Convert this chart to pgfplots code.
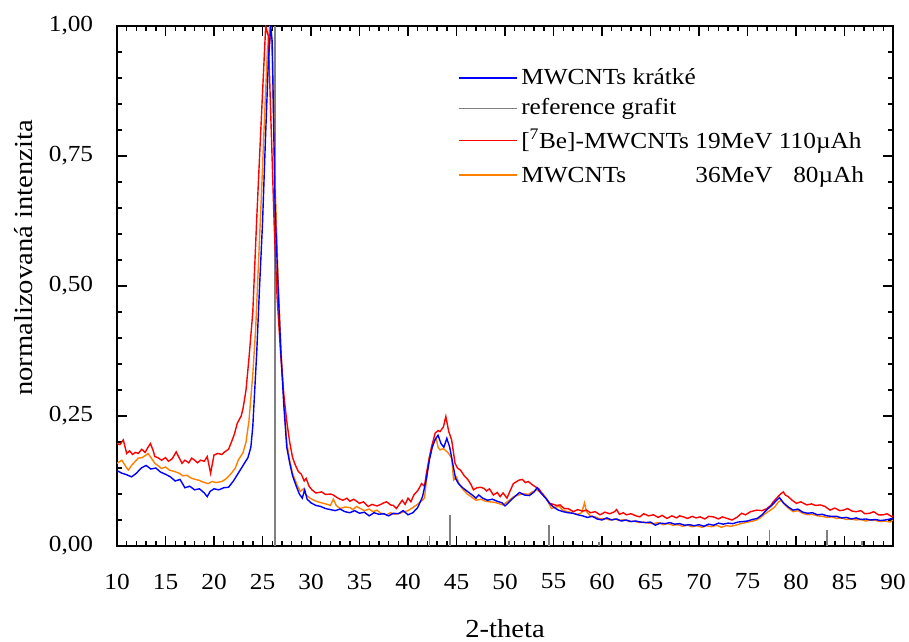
\documentclass[border=0pt]{standalone}
\usepackage{fontspec}
\setmainfont[FakeStretch=1.1]{Liberation Serif}
\usepackage{pgfplots}
\pgfplotsset{compat=1.18}
\definecolor{cblue}{RGB}{0,0,255}
\definecolor{cred}{RGB}{255,0,0}
\definecolor{corange}{RGB}{255,128,0}
\definecolor{cgray}{RGB}{128,128,128}
\begin{document}
\fontsize{23}{27}\selectfont
\begin{tikzpicture}
\begin{axis}[
  scale only axis, width=776pt, height=520pt,
  xmin=10, xmax=90, ymin=0, ymax=1,
  xtick={10,15,...,90}, ytick={0,0.25,0.5,0.75,1},
  minor x tick num=4, minor y tick num=4,
  major tick length=10pt, minor tick length=5pt,
  tick style={black, line width=1.4pt},
  axis line style={line width=1.8pt},
  tick align=inside,
  /pgf/number format/assume math mode=true,
  yticklabel={\pgfmathprintnumber[fixed,fixed zerofill,precision=2,use comma]{\tick}},
  xticklabel={\pgfmathprintnumber[fixed,precision=0]{\tick}},
  yticklabel style={xshift=-16pt},
  xticklabel style={yshift=-20pt},
  xlabel={2-theta}, ylabel={normalizovaná intenzita},
  xlabel style={at={([yshift=-91pt]rel axis cs:0.5,0)}, anchor=base, font=\fontsize{26}{30}\selectfont},
  ylabel style={at={([xshift=-84pt]rel axis cs:0,0.554)}, anchor=base, font=\fontsize{26}{30}\selectfont},
  legend style={draw=none, fill=none, at={(0.435,0.927)}, anchor=north west,
    row sep=7pt, font=\fontsize{23}{27}\selectfont, nodes={inner xsep=4pt}},
  legend cell align=left,
  legend image code/.code={\draw[#1,line width=1.5pt] (0pt,0pt) -- (58pt,0pt);},
]
\coordinate (ll) at (rel axis cs:0,0);
\coordinate (ur) at (rel axis cs:1,1);
\addlegendimage{color=cblue}
\addlegendentry{MWCNTs krátké}
\addlegendimage{color=cgray}
\addlegendentry{reference grafit}
\addlegendimage{color=cred}
\addlegendentry{[\textsuperscript{7}Be]-MWCNTs 19MeV 110µAh}
\addlegendimage{color=corange}
\addlegendentry{\rlap{MWCNTs}\phantom{[\textsuperscript{7}Be]-MWCNTs} 36MeV\hspace{0.9em}80µAh}

% reference graphite sticks
\addplot[cgray, ycomb, line width=1.5pt, forget plot] coordinates {
(26.3,1.0) (42.2,0.019) (44.35,0.06) (50.4,0.01) (54.55,0.04) (59.7,0.008) (77.25,0.031) (83.2,0.03) (86.8,0.01)
};

% orange: MWCNTs 36MeV 80uAh
\addplot[corange, line width=1.4pt, forget plot] coordinates {
(10.0,0.159) (10.5,0.165) (11.0,0.150) (11.17,0.146) (11.5,0.155) (12.0,0.165) (12.2,0.169) (12.6,0.170) (13.0,0.175) (13.2,0.178) (13.5,0.170) (13.9,0.159) (14.2,0.155) (14.6,0.149) (15.0,0.152) (15.4,0.146) (15.98,0.143) (16.4,0.140) (16.8,0.135) (17.2,0.136) (17.7,0.130) (18.1,0.128) (18.5,0.126) (19.0,0.122) (19.4,0.120) (19.8,0.124) (20.2,0.122) (20.8,0.124) (21.3,0.130) (21.8,0.140) (22.2,0.150) (22.5,0.165) (23.0,0.180) (23.3,0.20) (23.6,0.24) (24.0,0.33) (24.3,0.42) (24.6,0.55) (24.9,0.68) (25.2,0.82) (25.5,0.95) (25.75,1.0) (26.0,0.95) (26.3,0.70) (26.6,0.52) (26.9,0.38) (27.2,0.28) (27.5,0.20) (27.8,0.165) (28.1,0.14) (28.5,0.12) (28.9,0.105) (29.2,0.110) (29.5,0.098) (29.9,0.092) (30.3,0.088) (30.7,0.085) (31.3,0.082) (31.7,0.080) (32.0,0.078) (32.3,0.090) (32.6,0.078) (33.0,0.072) (33.5,0.075) (34.0,0.074) (34.3,0.070) (34.7,0.076) (35.1,0.072) (35.5,0.068) (36.0,0.071) (36.4,0.066) (36.8,0.069) (37.2,0.063) (37.5,0.062) (37.8,0.060) (38.2,0.064) (38.6,0.061) (39.2,0.063) (39.6,0.066) (40.0,0.068) (40.5,0.074) (40.9,0.079) (41.3,0.085) (41.7,0.092) (41.9,0.127) (42.2,0.17) (42.6,0.197) (42.9,0.207) (43.1,0.19) (43.3,0.185) (43.6,0.187) (43.8,0.185) (44.1,0.180) (44.5,0.169) (44.7,0.127) (45.0,0.133) (45.3,0.118) (45.7,0.108) (46.1,0.100) (46.5,0.095) (47.0,0.088) (47.5,0.090) (48.0,0.086) (48.45,0.085) (48.9,0.084) (49.3,0.082) (49.8,0.079) (50.3,0.086) (50.9,0.095) (51.4,0.098) (51.9,0.101) (52.4,0.099) (52.8,0.104) (53.26,0.108) (53.6,0.104) (53.9,0.101) (54.3,0.090) (54.8,0.072) (55.2,0.075) (55.6,0.076) (56.0,0.068) (56.5,0.066) (57.0,0.063) (57.5,0.061) (57.9,0.064) (58.2,0.083) (58.4,0.066) (58.8,0.058) (59.3,0.056) (59.8,0.052) (60.3,0.053) (60.8,0.050) (61.3,0.052) (61.8,0.049) (62.3,0.051) (62.8,0.047) (63.3,0.048) (63.8,0.045) (64.3,0.046) (64.8,0.044) (65.3,0.043) (65.8,0.045) (66.3,0.041) (66.8,0.043) (67.3,0.040) (67.8,0.041) (68.3,0.038) (68.8,0.040) (69.3,0.037) (69.8,0.039) (70.3,0.036) (70.8,0.039) (71.3,0.037) (71.8,0.040) (72.3,0.036) (72.8,0.039) (73.3,0.038) (73.8,0.040) (74.3,0.043) (74.8,0.045) (75.3,0.047) (75.8,0.049) (76.3,0.054) (76.8,0.062) (77.3,0.068) (77.8,0.075) (78.2,0.085) (78.5,0.088) (78.8,0.080) (79.2,0.073) (79.7,0.066) (80.2,0.068) (80.7,0.063) (81.2,0.060) (81.7,0.061) (82.2,0.058) (82.7,0.057) (83.2,0.055) (83.7,0.056) (84.2,0.053) (84.7,0.054) (85.2,0.051) (85.7,0.052) (86.2,0.050) (86.7,0.051) (87.2,0.048) (87.7,0.050) (88.2,0.049) (88.7,0.047) (89.2,0.048) (89.7,0.046) (90.0,0.050)
};

% red: [7Be]-MWCNTs 19MeV 110uAh
\addplot[cred, line width=1.4pt, forget plot] coordinates {
(10.0,0.197) (10.3,0.195) (10.65,0.204) (11.0,0.178) (11.3,0.183) (11.6,0.176) (11.9,0.180) (12.2,0.178) (12.55,0.186) (12.9,0.180) (13.2,0.190) (13.45,0.197) (13.7,0.185) (13.9,0.172) (14.2,0.170) (14.6,0.165) (15.0,0.170) (15.3,0.163) (15.7,0.168) (16.1,0.181) (16.4,0.170) (16.7,0.159) (17.0,0.165) (17.4,0.160) (17.7,0.169) (18.0,0.165) (18.3,0.160) (18.6,0.165) (19.0,0.163) (19.3,0.172) (19.65,0.140) (20.0,0.175) (20.4,0.178) (20.8,0.176) (21.1,0.181) (21.5,0.186) (21.8,0.200) (22.1,0.215) (22.4,0.236) (22.8,0.250) (23.0,0.265) (23.3,0.30) (23.6,0.36) (24.0,0.45) (24.4,0.627) (24.7,0.75) (25.0,0.87) (25.33,1.0) (25.6,0.98) (25.9,0.80) (26.2,0.62) (26.5,0.48) (26.87,0.37) (27.2,0.29) (27.5,0.24) (27.8,0.20) (28.1,0.17) (28.4,0.155) (28.7,0.143) (29.0,0.138) (29.3,0.125) (29.5,0.130) (29.8,0.115) (30.1,0.108) (30.5,0.102) (31.1,0.104) (31.5,0.099) (32.0,0.100) (32.3,0.098) (32.7,0.093) (33.0,0.090) (33.3,0.088) (33.7,0.092) (34.0,0.086) (34.4,0.090) (34.7,0.086) (35.0,0.082) (35.4,0.085) (35.9,0.076) (36.3,0.080) (36.8,0.077) (37.2,0.080) (37.5,0.083) (37.8,0.085) (38.2,0.079) (38.5,0.078) (38.8,0.072) (39.1,0.080) (39.4,0.088) (39.7,0.080) (40.0,0.092) (40.3,0.085) (40.6,0.098) (41.06,0.108) (41.4,0.12) (41.7,0.115) (41.9,0.14) (42.2,0.17) (42.43,0.191) (42.8,0.217) (43.1,0.222) (43.3,0.220) (43.65,0.229) (43.9,0.249) (44.2,0.220) (44.5,0.204) (44.85,0.159) (45.1,0.150) (45.4,0.146) (45.8,0.135) (46.2,0.127) (46.5,0.118) (46.75,0.108) (47.1,0.112) (47.5,0.113) (47.8,0.111) (48.1,0.106) (48.4,0.110) (48.8,0.098) (49.2,0.103) (49.5,0.095) (49.8,0.102) (50.2,0.092) (50.5,0.105) (50.86,0.120) (51.2,0.124) (51.5,0.127) (51.8,0.128) (52.1,0.122) (52.4,0.124) (52.8,0.118) (53.1,0.114) (53.5,0.110) (53.9,0.098) (54.3,0.090) (54.6,0.082) (55.0,0.080) (55.3,0.078) (55.67,0.079) (56.1,0.072) (56.5,0.072) (57.05,0.066) (57.5,0.070) (58.0,0.067) (58.4,0.069) (58.8,0.064) (59.3,0.066) (59.8,0.060) (60.3,0.065) (60.8,0.062) (61.3,0.066) (61.5,0.070) (61.8,0.061) (62.2,0.064) (62.5,0.060) (63.0,0.062) (63.5,0.058) (63.9,0.056) (64.3,0.062) (64.8,0.058) (65.3,0.060) (65.8,0.055) (66.2,0.059) (66.7,0.053) (67.2,0.058) (67.7,0.054) (68.0,0.058) (68.4,0.056) (68.8,0.053) (69.3,0.057) (69.7,0.054) (70.1,0.056) (70.6,0.052) (71.0,0.057) (71.5,0.056) (72.0,0.052) (72.4,0.056) (72.9,0.053) (73.4,0.050) (73.9,0.055) (74.4,0.063) (74.8,0.060) (75.3,0.066) (75.95,0.069) (76.5,0.068) (77.0,0.072) (77.4,0.078) (77.66,0.085) (78.0,0.092) (78.4,0.100) (78.7,0.104) (78.9,0.098) (79.2,0.095) (79.6,0.088) (80.05,0.082) (80.5,0.085) (81.1,0.079) (81.6,0.081) (82.0,0.078) (82.5,0.079) (83.0,0.076) (83.5,0.069) (84.0,0.073) (84.5,0.068) (84.9,0.069) (85.3,0.072) (85.8,0.067) (86.2,0.066) (86.7,0.068) (87.1,0.062) (87.6,0.063) (88.0,0.066) (88.5,0.060) (89.0,0.060) (89.4,0.062) (89.9,0.056) (90.0,0.058)
};

% blue: MWCNTs kratke
\addplot[cblue, line width=1.4pt, forget plot] coordinates {
(10.0,0.145) (10.5,0.140) (11.0,0.137) (11.5,0.133) (12.0,0.140) (12.5,0.150) (13.0,0.155) (13.5,0.148) (14.0,0.150) (14.5,0.142) (15.0,0.138) (15.5,0.133) (16.0,0.125) (16.5,0.128) (17.0,0.112) (17.5,0.115) (18.0,0.108) (18.5,0.110) (19.0,0.102) (19.3,0.095) (19.6,0.105) (20.0,0.110) (20.5,0.108) (21.0,0.112) (21.5,0.113) (22.0,0.125) (22.5,0.140) (23.0,0.155) (23.5,0.170) (23.8,0.19) (24.0,0.23) (24.2,0.30) (24.4,0.37) (24.7,0.50) (25.0,0.62) (25.3,0.78) (25.6,0.93) (25.85,1.0) (26.0,0.97) (26.3,0.65) (26.6,0.50) (26.9,0.37) (27.2,0.27) (27.5,0.19) (27.8,0.16) (28.1,0.135) (28.5,0.114) (28.8,0.10) (29.1,0.092) (29.35,0.108) (29.6,0.09) (30.0,0.083) (30.5,0.078) (31.0,0.076) (31.5,0.072) (32.0,0.070) (32.5,0.068) (33.0,0.071) (33.5,0.066) (34.0,0.064) (34.5,0.068) (35.0,0.063) (35.5,0.065) (36.0,0.058) (36.5,0.064) (37.0,0.061) (37.5,0.062) (38.0,0.058) (38.5,0.063) (39.0,0.062) (39.5,0.068) (40.0,0.060) (40.5,0.064) (41.0,0.074) (41.5,0.095) (41.9,0.13) (42.2,0.165) (42.5,0.19) (42.8,0.205) (43.1,0.213) (43.4,0.197) (43.7,0.19) (44.0,0.207) (44.3,0.19) (44.6,0.16) (44.9,0.13) (45.2,0.12) (45.7,0.111) (46.2,0.104) (46.7,0.097) (47.0,0.092) (47.3,0.098) (47.7,0.092) (48.2,0.088) (48.7,0.090) (49.2,0.086) (49.7,0.083) (50.0,0.077) (50.5,0.086) (51.0,0.095) (51.5,0.103) (52.0,0.098) (52.5,0.097) (53.0,0.104) (53.3,0.112) (53.7,0.102) (54.2,0.092) (54.6,0.082) (55.0,0.075) (55.5,0.069) (56.0,0.066) (56.5,0.064) (57.0,0.063) (57.5,0.060) (58.0,0.058) (58.5,0.055) (59.0,0.057) (59.5,0.052) (60.0,0.050) (60.5,0.054) (61.0,0.050) (61.5,0.052) (62.0,0.048) (62.5,0.050) (63.0,0.047) (63.5,0.048) (64.0,0.046) (64.5,0.045) (65.0,0.046) (65.5,0.040) (66.0,0.044) (66.5,0.043) (67.0,0.045) (67.5,0.042) (68.0,0.043) (68.5,0.040) (69.0,0.041) (69.5,0.039) (70.0,0.041) (70.5,0.038) (71.0,0.042) (71.5,0.040) (72.0,0.044) (72.5,0.042) (73.0,0.044) (73.5,0.043) (74.0,0.046) (74.5,0.047) (75.0,0.048) (75.5,0.051) (76.0,0.053) (76.5,0.060) (77.0,0.070) (77.5,0.078) (78.0,0.088) (78.3,0.093) (78.7,0.083) (79.2,0.075) (79.7,0.069) (80.2,0.071) (80.7,0.065) (81.2,0.063) (81.7,0.064) (82.2,0.060) (82.7,0.061) (83.2,0.058) (83.7,0.057) (84.2,0.057) (84.7,0.054) (85.2,0.055) (85.7,0.052) (86.2,0.054) (86.7,0.051) (87.2,0.052) (87.7,0.050) (88.2,0.051) (88.7,0.049) (89.2,0.050) (89.7,0.052) (90.0,0.053)
};
\end{axis}
\pgfresetboundingbox
\path ([shift={(-117pt,-95pt)}]ll) rectangle ([shift={(16pt,26pt)}]ur);
\end{tikzpicture}
\end{document}
